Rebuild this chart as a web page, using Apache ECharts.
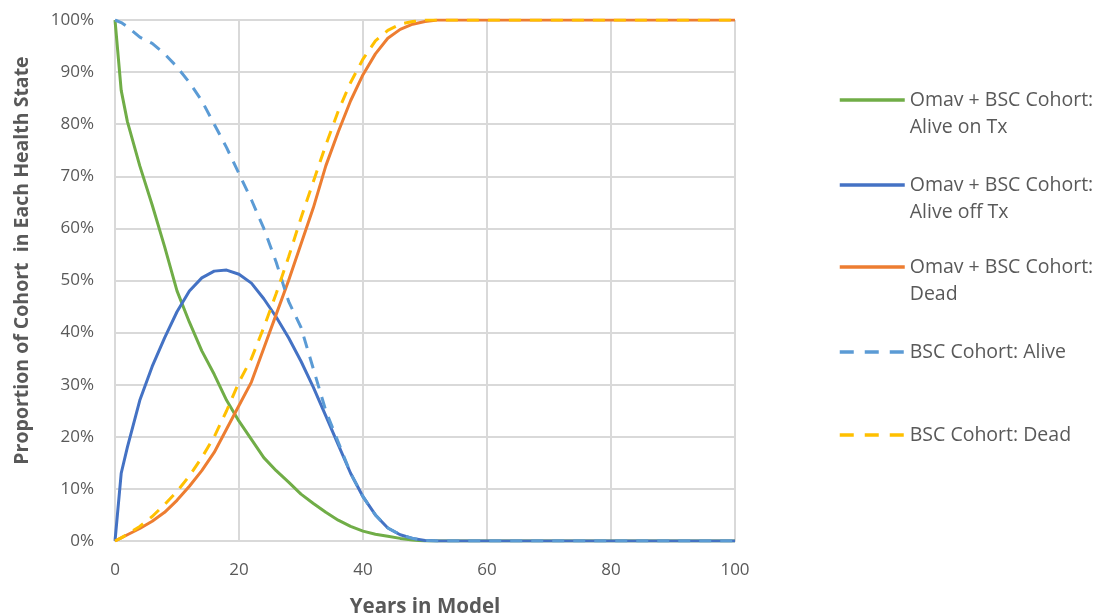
<!DOCTYPE html>
<html>
<head>
<meta charset="utf-8">
<script src="https://cdn.jsdelivr.net/npm/echarts@6/dist/echarts.min.js"></script>
<style>
  html, body { margin: 0; padding: 0; background: #fff; }
  #chart { width: 1098px; height: 615px; }
</style>
</head>
<body>
<div id="chart"></div>
<script>
// years in model
const years = [0, 1, 2, 4, 6, 8, 10, 12, 14, 16, 18, 20, 22, 24, 26, 28, 30, 32, 34, 36, 38, 40, 42, 44, 46, 48, 50, 52, 60, 70, 80, 90, 100]
// Omav + BSC Cohort: Alive on Tx (%)
const aliveOnTx = [100, 86.5, 80.5, 72, 64.5, 56.5, 48, 42, 36.5, 32, 27, 23, 19.5, 16, 13.5, 11.3, 9, 7.2, 5.5, 4, 2.8, 1.9, 1.3, 0.9, 0.5, 0.2, 0, 0, 0, 0, 0, 0, 0]
// Omav + BSC Cohort: Alive off Tx (%)
const aliveOffTx = [0, 13, 18, 27, 33.5, 39, 44, 48, 50.5, 51.8, 52, 51.2, 49.5, 46.5, 43, 39, 34.5, 29.5, 24, 18.5, 13, 8.5, 5, 2.5, 1.2, 0.5, 0.1, 0, 0, 0, 0, 0, 0]
// Omav + BSC Cohort: Dead (%)
const omavDead = [0, 0.6, 1.2, 2.4, 3.8, 5.5, 7.8, 10.5, 13.5, 17, 21.5, 26, 30.5, 37, 43.5, 50, 57, 64, 72, 78.5, 84.5, 89.5, 93.5, 96.5, 98.2, 99.2, 99.7, 100, 100, 100, 100, 100, 100]
// BSC Cohort: Alive (%)
const bscAlive = [100, 99.5, 98.7, 96.7, 95.5, 93.5, 91, 88, 84.5, 80, 75.5, 70.5, 65.5, 60, 53.5, 46, 41, 33, 25, 19, 13, 8.5, 5, 2.5, 1.2, 0.5, 0.1, 0, 0, 0, 0, 0, 0]
// BSC Cohort: Dead (%)
const bscDead = [0, 0.6, 1.3, 2.8, 4.7, 7, 9.5, 12.5, 16, 20, 25, 30.5, 35, 41, 47.5, 54.5, 62, 69, 76, 82.5, 88, 92.5, 96, 98, 99.2, 99.7, 100, 100, 100, 100, 100, 100, 100]

const names = [
  'Omav + BSC Cohort:\nAlive on Tx',
  'Omav + BSC Cohort:\nAlive off Tx',
  'Omav + BSC Cohort:\nDead',
  'BSC Cohort: Alive',
  'BSC Cohort: Dead',
]
const colors = ['#70ad47', '#4472c4', '#ed7d31', '#5b9bd5', '#ffc000']
const dashed = [false, false, false, true, true]

const pairs = (vals) => years.map((x, i) => [x, vals[i]])

const myChart = echarts.init(document.getElementById('chart'))

const makeSeries = (i, vals) => ({
  name: names[i],
  type: 'line',
  data: pairs(vals),
  symbol: 'none',
  smooth: false,
  color: colors[i],
  lineStyle: {
    width: 3,
    color: colors[i],
    type: dashed[i] ? [12, 9] : 'solid',
  },
})

const legendTops = [100, 185, 267, 352, 435] // centre of icon
const lineH = 27
const legends = names.map((n, i) => {
  const twoLine = n.indexOf('\n') >= 0
  return {
    data: [n],
    left: 838,
    top: twoLine ? legendTops[i] - 1.5 * lineH : legendTops[i] - lineH / 2,
    padding: 0,
    itemWidth: 65,
    itemHeight: 14,
    selectedMode: false,
    itemStyle: { opacity: 0 },
    lineStyle: dashed[i] ? { width: 3.5, type: [14, 11] } : { width: 3.5 },
    // blank first line so the icon sits level with the first text line
    formatter: (name) => (twoLine ? ' \n' + name : name),
    textStyle: {
      fontFamily: 'Open Sans',
      fontSize: 19.5,
      color: '#595959',
      lineHeight: lineH,
    },
  }
})

myChart.setOption({
  animation: false,
  grid: {
    left: 115,
    right: 363,
    top: 20,
    bottom: 74,
    outerBoundsMode: 'none',
  },
  legend: legends,
  xAxis: {
    type: 'value',
    min: 0,
    max: 100,
    interval: 20,
    name: 'Years in Model',
    nameLocation: 'middle',
    nameGap: 56,
    nameTextStyle: {
      fontFamily: 'Open Sans',
      fontSize: 20.5,
      fontWeight: 'bold',
      color: '#595959',
    },
    axisLine: { show: true, lineStyle: { color: '#d9d9d9', width: 2 } },
    axisTick: { show: false },
    axisLabel: {
      fontFamily: 'Open Sans',
      fontSize: 17,
      color: '#595959',
      margin: 21,
    },
    splitLine: { lineStyle: { color: '#d9d9d9', width: 2 } },
  },
  yAxis: {
    type: 'value',
    min: 0,
    max: 100,
    interval: 10,
    name: 'Proportion of Cohort  in Each Health State',
    nameLocation: 'middle',
    nameGap: 83,
    nameTextStyle: {
      fontFamily: 'Open Sans',
      fontSize: 19.5,
      fontWeight: 'bold',
      color: '#595959',
      padding: [0, 0, 0, 40],
    },
    axisLine: { show: false },
    axisTick: { show: false },
    axisLabel: {
      formatter: '{value}%',
      fontFamily: 'Open Sans',
      fontSize: 17,
      color: '#595959',
      margin: 21,
    },
    splitLine: { lineStyle: { color: '#d9d9d9', width: 2 } },
  },
  series: [
    makeSeries(0, aliveOnTx),
    makeSeries(1, aliveOffTx),
    makeSeries(2, omavDead),
    makeSeries(3, bscAlive),
    makeSeries(4, bscDead),
  ],
})
</script>
</body>
</html>
